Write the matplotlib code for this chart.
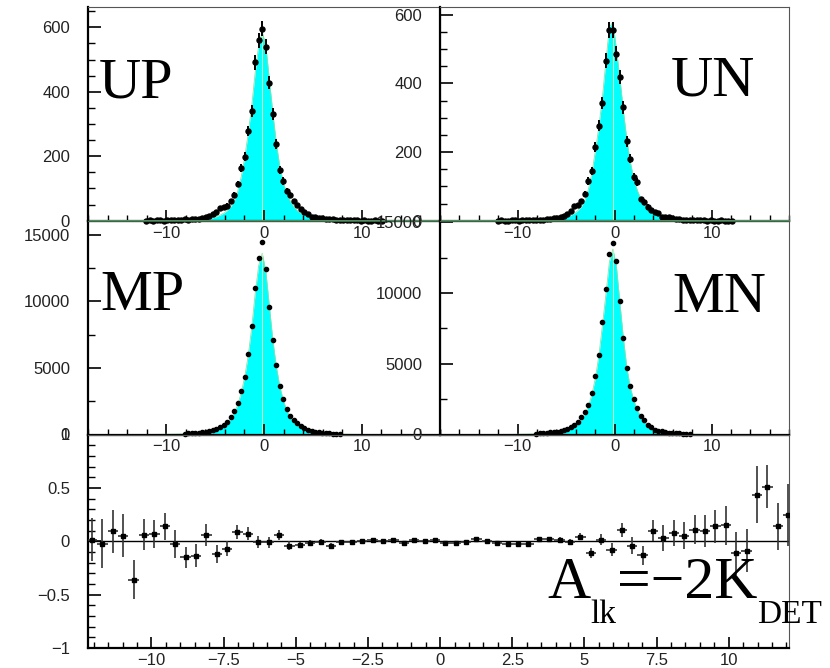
import numpy as np
import matplotlib
matplotlib.use("Agg")
import matplotlib.pyplot as plt
from matplotlib.ticker import MultipleLocator, FixedLocator, FixedFormatter

W, H, DPI = 830, 668, 100

# Histogram binning: 0.36 wide bins, 68 bins shown between -12.24 and 12.24
BIN_WIDTH = 0.36
FIRST_CENTER = -12.06
N_BINS = 68
nan = float("nan")

# Measured counts (data points) and simulation (filled) per bin
up_data = [0, 1, 0, 1, 1, 0, 1, 2, 1, 2, 3, 4,
           3, 4, 5, 6, 7, 10, 15, 20, 27, 40, 43, 47,
           61, 80, 114, 164, 198, 278, 341, 491, 560, 596,
           540, 428, 332, 238, 156, 123, 91, 79, 61, 49,
           36, 26, 20, 13, 10, 9, 7, 5, 4, 4, 3, 2,
           2, 2, 1, 1, 1, 0, 1, 0, 0, 1, 0, 0]
up_mc = [0, 0, 0, 1, 1, 1, 1, 1, 1, 1, 1, 2,
         2, 2, 3, 3, 4, 5, 7, 9, 13, 17, 23, 31,
         43, 60, 90, 135, 195, 270, 355, 460, 545, 585,
         545, 440, 335, 240, 168, 118, 84, 60, 43, 31,
         23, 17, 12, 9, 7, 5, 4, 3, 2, 2, 1, 1,
         1, 1, 1, 1, 0, 0, 0, 0, 0, 0, 0, 0]

un_data = [0, 1, 0, 0, 1, 1, 0, 1, 1, 2, 2, 2,
           3, 3, 4, 5, 7, 9, 11, 13, 20, 28, 42, 45,
           56, 79, 116, 144, 214, 277, 343, 466, 555, 557,
           487, 420, 330, 231, 181, 128, 113, 62, 55, 41,
           31, 24, 21, 12, 12, 10, 7, 5, 4, 3, 2, 2,
           1, 2, 1, 1, 0, 1, 0, 0, 1, 0, 0, 0]
un_mc = [0, 0, 0, 0, 1, 1, 1, 1, 1, 1, 1, 1,
         1, 2, 2, 3, 4, 5, 7, 9, 12, 16, 22, 30,
         41, 60, 92, 140, 205, 275, 360, 465, 565, 578,
         500, 415, 320, 235, 170, 122, 88, 64, 46, 34,
         25, 18, 13, 9, 7, 5, 4, 3, 2, 2, 1, 1,
         1, 1, 0, 0, 0, 0, 0, 0, 0, 0, 0, 0]

# Bins without a plotted point are left as nan
mp_data = [nan, nan, nan, nan, nan, nan, nan, nan, nan, nan, nan, 68,
           80, 100, 125, 150, 185, 225, 275, 325, 425, 550, 725, 975,
           1350, 1775, 2350, 3275, 4350, 6050, 8175, 11025, 13275, 14425,
           12400, 9600, 7100, 5225, 3675, 2650, 1925, 1400, 1100, 850,
           650, 475, 350, 275, 225, 180, 145, 115, 90, 72, 58, 46,
           nan, nan, nan, nan, nan, nan, nan, nan, nan, nan, nan, nan]
mp_mc = [5, 6, 8, 10, 12, 15, 19, 24, 30, 38, 45, 52,
         60, 75, 95, 120, 150, 185, 230, 290, 370, 480, 630, 850,
         1150, 1600, 2200, 3100, 4300, 5900, 8000, 10600, 12700, 13600,
         12300, 9700, 7100, 5100, 3600, 2550, 1800, 1300, 950, 700,
         520, 390, 290, 220, 170, 130, 100, 80, 62, 50, 40, 32,
         26, 21, 17, 14, 11, 9, 7, 6, 5, 4, 3, 2]

mn_data = [nan, nan, nan, nan, nan, nan, nan, nan, nan, nan, nan, 70,
           82, 100, 120, 145, 170, 190, 240, 300, 380, 508, 650, 887,
           1217, 1596, 2116, 2943, 4125, 5615, 7979, 10272, 12754, 13534,
           12234, 9397, 6844, 4693, 3392, 2541, 1879, 1288, 1005, 697,
           508, 343, 280, 220, 175, 140, 112, 90, 72, 58, 46, 37,
           nan, nan, nan, nan, nan, nan, nan, nan, nan, nan, nan, nan]
mn_mc = [5, 6, 8, 10, 12, 15, 19, 24, 30, 38, 46, 55,
         65, 80, 98, 120, 140, 155, 200, 260, 340, 450, 600, 800,
         1080, 1450, 2000, 2850, 4000, 5600, 7700, 9900, 12200, 13100,
         11900, 9300, 6800, 4700, 3300, 2400, 1750, 1250, 920, 680,
         500, 380, 290, 220, 170, 130, 100, 80, 64, 50, 40, 32,
         26, 21, 17, 14, 11, 9, 7, 6, 5, 4, 3, 2]

# Asymmetry per bin with its uncertainty
asym = [0.016, -0.025, 0.094, 0.053, -0.36, 0.06, 0.07, 0.14, -0.025, -0.15, -0.135, 0.06,
        -0.12, -0.072, 0.085, 0.07, -0.01, -0.01, 0.06, -0.04, -0.035, -0.016, -0.003, -0.04,
        -0.003, -0.003, 0.003, 0.013, 0.0, 0.01, -0.016, 0.013, 0.0, 0.01,
        -0.016, -0.016, -0.01, 0.022, 0.006, -0.02, -0.022, -0.025, -0.025, 0.019,
        0.022, 0.016, -0.003, 0.044, -0.11, 0.016, -0.08, 0.107, -0.04, -0.13, 0.10, 0.03,
        0.075, 0.053, 0.11, 0.10, 0.14, 0.148, -0.113, -0.088, 0.437, 0.51, 0.14, 0.25]
asym_err = [0.2, 0.23, 0.2, 0.2, 0.18, 0.145, 0.13, 0.125, 0.13, 0.1, 0.11, 0.1,
            0.085, 0.07, 0.068, 0.06, 0.055, 0.05, 0.045, 0.04, 0.03, 0.025, 0.02, 0.02,
            0.015, 0.012, 0.01, 0.01, 0.008, 0.008, 0.006, 0.006, 0.005, 0.005,
            0.005, 0.006, 0.006, 0.007, 0.008, 0.009, 0.01, 0.011, 0.012, 0.014,
            0.016, 0.02, 0.025, 0.03, 0.05, 0.055, 0.06, 0.068, 0.08, 0.09, 0.1, 0.12,
            0.12, 0.125, 0.137, 0.15, 0.155, 0.18, 0.2, 0.2, 0.27, 0.2, 0.22, 0.29]

hist_xticks = [-10, 0, 10]
hist_xticklabels = ["\u221210", "0", "10"]
top_yticks = [0, 200, 400, 600]
mid_yticks = [0, 5000, 10000, 15000]
asym_xticks = [-10, -7.5, -5, -2.5, 0, 2.5, 5, 7.5, 10]
asym_xticklabels = ["\u221210", "\u22127.5", "\u22125", "\u22122.5", "0",
                    "2.5", "5", "7.5", "10"]
asym_yticks = [-1, -0.5, 0, 0.5, 1]
asym_yticklabels = ["\u22121", "\u22120.5", "0", "0.5", "1"]

plt.rcParams["font.family"] = ["Liberation Sans", "DejaVu Sans"]

CYAN = "#00ffff"
GREEN = "#3cb45a"
EDGE = "#8fe0a8"

centers = FIRST_CENTER + BIN_WIDTH * np.arange(N_BINS)

fig = plt.figure(figsize=(W / DPI, H / DPI), dpi=DPI)
fig.patch.set_facecolor("white")


def box(x0, y0, x1, y1):
    return [x0 / W, 1 - y1 / H, (x1 - x0) / W, (y1 - y0) / H]


def style(ax, xlim, ylim, xticks, xlabels, xminor, yticks, ylabels, yminor):
    ax.set_facecolor("none")
    ax.set_xlim(*xlim)
    ax.set_ylim(*ylim)
    for side in ("top", "right"):
        ax.spines[side].set_linewidth(0.8)
        ax.spines[side].set_color("#555555")
    for side in ("left", "bottom"):
        ax.spines[side].set_linewidth(1.6)
        ax.spines[side].set_color("black")
    ax.xaxis.set_major_locator(FixedLocator(xticks))
    ax.xaxis.set_major_formatter(FixedFormatter(xlabels))
    ax.xaxis.set_minor_locator(MultipleLocator(xminor))
    ax.yaxis.set_major_locator(FixedLocator(yticks))
    ax.yaxis.set_major_formatter(FixedFormatter(ylabels))
    ax.yaxis.set_minor_locator(MultipleLocator(yminor))
    ax.tick_params(which="both", direction="in", top=False, right=False,
                   color="black", labelcolor="#222222", labelsize=12)
    ax.tick_params(axis="x", which="major", length=8, width=1.2, pad=3.5)
    ax.tick_params(axis="x", which="minor", length=4, width=1.0)
    ax.tick_params(axis="y", which="major", length=9.4, width=1.2, pad=13)
    ax.tick_params(axis="y", which="minor", length=5, width=1.0)


def draw_hist(ax, data, mc, ms, green_base):
    data = np.asarray(data, float)
    mc = np.asarray(mc, float)
    ax.fill_between(centers, 0, mc, color=CYAN, lw=0, zorder=1)
    ax.plot(centers, mc, color=EDGE, lw=0.6, zorder=2)
    k = int(np.argmax(mc))
    ax.vlines(centers[k], 0, mc[k], color="#c4f2b4", lw=0.8, zorder=2)
    ax.errorbar(centers, data, yerr=np.sqrt(data), fmt="o", ms=ms,
                color="black", ecolor="black", elinewidth=1.4, capsize=0,
                zorder=4, clip_on=False)
    if green_base:
        ax.axhline(0, color=GREEN, lw=1.3, zorder=5, clip_on=False)


ax_up = fig.add_axes(box(88, 7.3, 440, 220.7))
ax_un = fig.add_axes(box(440, 7.3, 789.3, 220.7))
ax_mp = fig.add_axes(box(88, 220.7, 440, 434.5))
ax_mn = fig.add_axes(box(440, 220.7, 789.3, 434.5))
ax_as = fig.add_axes(box(88, 434.5, 789.3, 648))

top_lbl = [str(v) for v in top_yticks]
mid_lbl = [str(v) for v in mid_yticks]

style(ax_up, (-18, 18), (0, 662), hist_xticks, hist_xticklabels, 2, top_yticks, top_lbl, 50)
style(ax_un, (-18, 18), (0, 622), hist_xticks, hist_xticklabels, 2, top_yticks, top_lbl, 50)
style(ax_mp, (-18, 18), (0, 16050), hist_xticks, hist_xticklabels, 2, mid_yticks, mid_lbl, 2500)
style(ax_mn, (-18, 18), (0, 15100), hist_xticks, hist_xticklabels, 2, mid_yticks, mid_lbl, 2500)
style(ax_as, (-12.2, 12.1), (-1, 1), asym_xticks, asym_xticklabels, 0.5,
      asym_yticks, asym_yticklabels, 0.1)

draw_hist(ax_up, up_data, up_mc, 3.6, True)
draw_hist(ax_un, un_data, un_mc, 3.6, True)
draw_hist(ax_mp, mp_data, mp_mc, 3.0, False)
draw_hist(ax_mn, mn_data, mn_mc, 3.0, False)

# Asymmetry panel
ax_as.axhline(0, color="black", lw=1.0, zorder=2)
ax_as.errorbar(centers, asym, yerr=asym_err, xerr=BIN_WIDTH / 2, fmt="s", ms=2.4,
               color="black", ecolor="#333333", elinewidth=1.2, capsize=0, zorder=3)

# Panel labels
serif = ["Liberation Serif", "DejaVu Serif"]


def px_text(x, y, s, size):
    fig.text(x / W, 1 - y / H, s, fontsize=size, family=serif,
             ha="left", va="baseline", color="black", zorder=10)


px_text(99, 98, "UP", 42)
px_text(671, 95, "UN", 42)
px_text(100, 310, "MP", 42)
px_text(672, 312, "MN", 42)

px_text(547, 598, "A", 43)
px_text(590, 623, "lk", 24)
px_text(617, 598, "=\u22122K", 43)
px_text(757, 623, "DET", 24)

fig.savefig("out.png", dpi=DPI, facecolor="white")
